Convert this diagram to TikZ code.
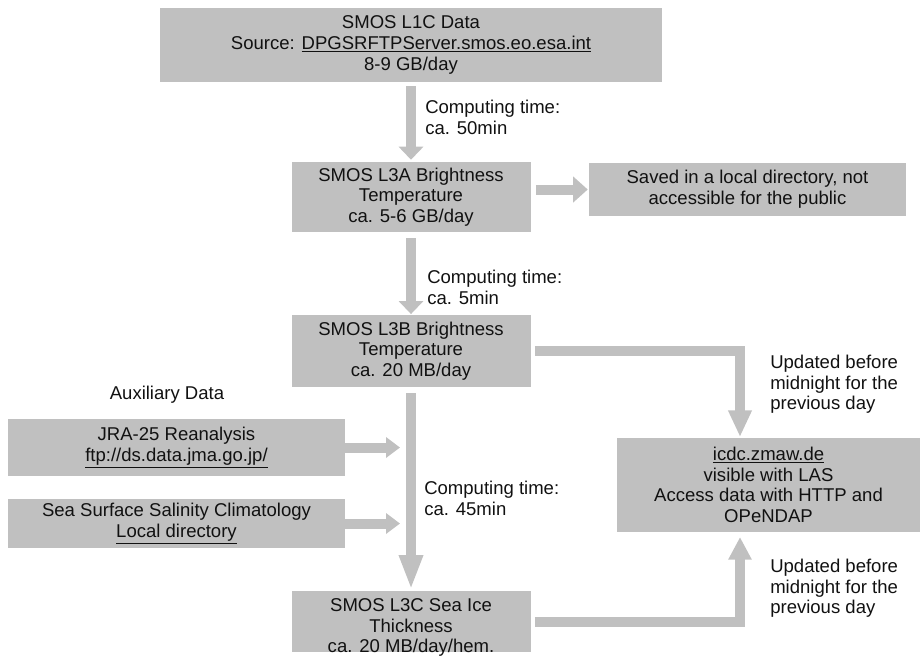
\documentclass[tikz,border=0pt]{standalone}
\usepackage{fontspec}
\setmainfont{Liberation Sans}
\usetikzlibrary{arrows.meta}
\definecolor{boxgray}{HTML}{C0C0C0}
\definecolor{txtc}{HTML}{111111}
\begin{document}
\begin{tikzpicture}[x=0.75pt,y=-0.75pt,
  every node/.style={font=\fontsize{13.9}{15.5}\selectfont, text=txtc},
  box/.style={fill=boxgray, inner sep=0pt, align=center},
  lbl/.style={inner sep=0pt, align=left, anchor=west},
  arr/.style={draw=boxgray, line width=7.5pt, line join=miter},
]
\useasboundingbox (0,0) rectangle (920,662);

% boxes
\node[box, minimum width=376.5pt, minimum height=55.5pt] (l1c) at (411,45)
  {SMOS L1C Data\\Source: \underline{DPGSRFTPServer.smos.eo.esa.int}\\8-9 GB/day};
\node[box, minimum width=179.25pt, minimum height=52.5pt] (l3a) at (411,197)
  {SMOS L3A Brightness\\Temperature\\ca. 5-6 GB/day};
\node[box, minimum width=237.75pt, minimum height=39.75pt] (saved) at (747.5,189.5)
  {Saved in a local directory, not\\accessible for the public};
\node[box, minimum width=179.25pt, minimum height=54pt] (l3b) at (411,351)
  {SMOS L3B Brightness\\Temperature\\ca. 20 MB/day};
\node[box, minimum width=179.25pt, minimum height=45.75pt] (l3c) at (411,621.5) {};
\node[inner sep=0pt, align=center] (l3ctext) at (411,627.5)
  {SMOS L3C Sea Ice\\Thickness\\ca. 20 MB/day/hem.};
\node[inner sep=0pt] (aux) at (167,395) {Auxiliary Data};
\node[box, minimum width=252.75pt, minimum height=42.75pt] (jra) at (176.5,447.5)
  {JRA-25 Reanalysis\\\underline{ftp://ds.data.jma.go.jp/}};
\node[box, minimum width=252.75pt, minimum height=36.75pt] (sss) at (176.5,523.5)
  {Sea Surface Salinity Climatology\\\underline{Local directory}};
\node[box, minimum width=227.25pt, minimum height=70.5pt] (icdc) at (768.5,485)
  {\underline{icdc.zmaw.de}\\visible with LAS\\Access data with HTTP and\\OPeNDAP};

% labels
\node[lbl] (ct1) at (425,117.5) {Computing time:\\ca. 50min};
\node[lbl] (ct2) at (427,287.5) {Computing time:\\ca. 5min};
\node[lbl] (ct3) at (424,498.5) {Computing time:\\ca. 45min};
\node[lbl] (up1) at (770,384.5) {Updated before\\midnight for the\\previous day};
\node[lbl] (up2) at (770,588.5) {Updated before\\midnight for the\\previous day};

\coordinate (in1) at (740,437);
\coordinate (in2) at (740,537);

% arrows
\draw[arr, -{Triangle[length=9.75pt,width=18pt]}, shorten <=3pt, shorten >=1.5pt] (l1c.south) -- (l3a.north);
\draw[arr, -{Triangle[length=9.75pt,width=18pt]}, shorten <=4.5pt, shorten >=0.5pt] (l3a.south) -- (l3b.north);
\draw[arr, -{Triangle[length=26pt,width=16.5pt]}, shorten <=4.5pt, shorten >=0.75pt] (l3b.south) -- (l3c.north);
\draw[arr, -{Triangle[length=11pt,width=19pt]}, shorten <=3.75pt, shorten >=0.75pt] (l3a.east |- saved.west) -- (saved.west);
\draw[arr, -{Triangle[length=20pt,width=16.5pt]}, shorten <=3pt] (l3b.east) -| (in1);
\draw[arr, -{Triangle[length=17pt,width=16.5pt]}, shorten <=3pt] (l3c.east) -| (in2);
\draw[arr, -{Triangle[length=10.5pt,width=15pt]}, shorten >=8.25pt] (jra.east) -- (jra.east -| l3b.south);
\draw[arr, -{Triangle[length=10.5pt,width=15pt]}, shorten >=8.25pt] (sss.east) -- (sss.east -| l3b.south);
\end{tikzpicture}
\end{document}
